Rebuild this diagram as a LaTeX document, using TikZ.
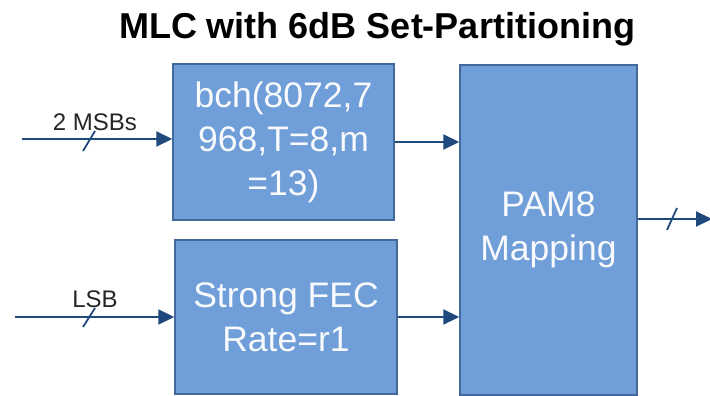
\documentclass[tikz,border=0pt]{standalone}
\usepackage{fontspec}
\setmainfont{Liberation Sans}
\usetikzlibrary{arrows.meta}

\definecolor{boxfill}{RGB}{112,158,216}
\definecolor{boxline}{RGB}{66,104,156}
\definecolor{wire}{RGB}{31,73,125}

\tikzset{
  block/.style={draw=boxline, line width=1.5pt, fill=boxfill, text=white!95!boxfill,
    align=center, inner sep=0pt, font=\fontsize{35.5}{44}\selectfont},
  wirearrow/.style={draw=wire, line width=2.2pt, -{Triangle[length=16pt,width=15pt]}},
  busmark/.style={draw=wire, line width=1.8pt},
  sigtext/.style={font=\fontsize{24}{28}\selectfont, text=black!85, inner sep=0pt}
}

\begin{document}
\begin{tikzpicture}[x=1pt, y=-1pt]

    \useasboundingbox (0,0) rectangle (710,396);

    \node (title) [anchor=base, font=\bfseries\fontsize{36}{40}\selectfont] at (377,39)
        {MLC with 6dB Set-Partitioning};

    \node (bch) [block, minimum width=221pt, minimum height=156pt] at (283.5,142)
        {bch(8072,7\\968,T=8,m\\=13)};
    \node (fec) [block, minimum width=222pt, minimum height=154pt] at (286,317)
        {Strong FEC\\Rate=r1};
    \node (pam) [block, minimum width=177pt, minimum height=330pt] at (548.5,230)
        {PAM8\\Mapping};

    \coordinate (in1) at (22,139);
    \coordinate (in2) at (15,317);
    \coordinate (out) at (712,219);

    \node (lblmsb) [sigtext, anchor=base] at (95,131) {2 MSBs};
    \node (lbllsb) [sigtext, anchor=base] at (95,307) {LSB};

    \draw [wirearrow] (in1) -- (in1 -| bch.west);
    \draw [wirearrow] (in2) -- (in2 -| fec.west);
    \draw [wirearrow] (bch.east) -- (bch.east -| pam.west);
    \draw [wirearrow] (fec.east) -- (fec.east -| pam.west);
    \draw [wirearrow] (pam.east |- out) -- (out);

    % bus width marks
    \draw [busmark] (83,151) -- (95,131);
    \draw [busmark] (83,327) -- (95,308);
    \draw [busmark] (667,230) -- (677,208);

  \end{tikzpicture}
\end{document}
